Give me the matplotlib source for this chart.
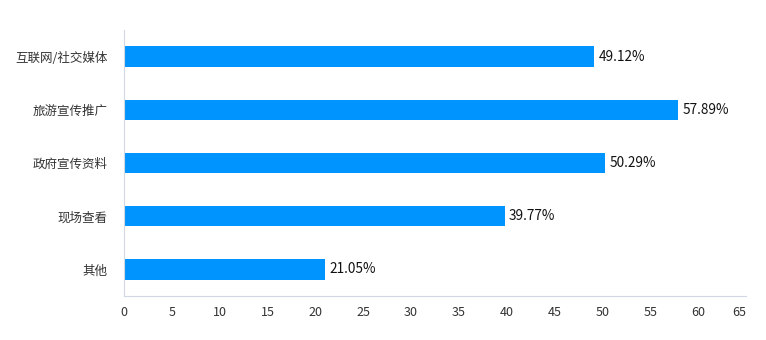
import matplotlib.pyplot as plt

plt.rcParams['font.family'] = ['Noto Sans CJK SC', 'DejaVu Sans']

categories = ["互联网/社交媒体", "旅游宣传推广", "政府宣传资料", "现场查看", "其他"]
values = [49.12, 57.89, 50.29, 39.77, 21.05]
xticks = list(range(0, 70, 5))

fig = plt.figure(figsize=(7.66, 3.40), dpi=100)
ax = fig.add_axes([124 / 766, 44 / 340, 622 / 766, 266 / 340])

ypos = list(range(len(categories)))[::-1]
ax.barh(ypos, values, height=0.38, color="#0094ff")
for y, v in zip(ypos, values):
    ax.text(v + 0.45, y, f"{v:.2f}%", va="center", ha="left", fontsize=9.8, color="#111111")

ax.set_xlim(0, 65)
ax.set_ylim(-0.5, len(categories) - 0.5)
ax.set_xticks(xticks)
ax.set_yticks(ypos)
ax.set_yticklabels(categories)
ax.tick_params(axis="both", length=0, labelsize=9, colors="#333333")
ax.tick_params(axis="x", pad=7)
ax.tick_params(axis="y", pad=12)
# last label is pulled inside the axis end, like the original
ax.get_xticklabels()[-1].set_horizontalalignment("right")
for side in ["top", "right"]:
    ax.spines[side].set_visible(False)
ax.spines["left"].set_color("#d0d8e6")
ax.spines["bottom"].set_color("#d0d8e6")

fig.savefig("out.png", dpi=100)
